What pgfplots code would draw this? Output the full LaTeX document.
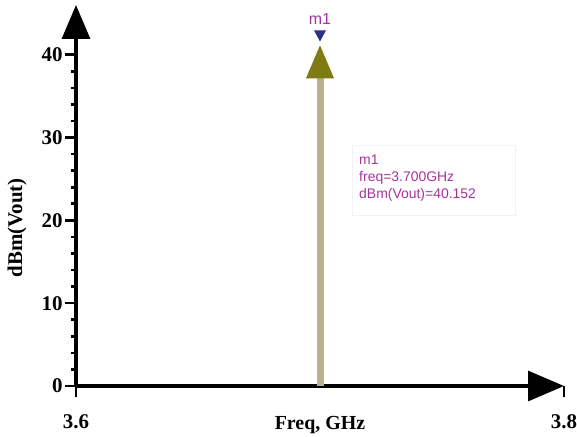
\documentclass[border=0pt]{standalone}
\usepackage{pgfplots}
\pgfplotsset{compat=1.18}
\usepackage{fontspec}
\setmainfont{Liberation Serif}
\newfontfamily\arial{Liberation Sans}
\usetikzlibrary{arrows.meta}
\definecolor{stemc}{HTML}{B8B08E}
\definecolor{headc}{HTML}{7E7B14}
\definecolor{markc}{HTML}{2E2E82}
\definecolor{txtc}{HTML}{A4349C}
\pgfdeclareplotmark{mtri}{%
  \pgfpathmoveto{\pgfpoint{0bp}{12bp}}%
  \pgfpathlineto{\pgfpoint{-6bp}{23bp}}%
  \pgfpathlineto{\pgfpoint{6bp}{23bp}}%
  \pgfpathclose
  \pgfusepathqfill}
\begin{document}
\begin{tikzpicture}
\begin{axis}[
  anchor=origin, at={(0,0)},
  scale only axis, width=488bp, height=381bp,
  xmin=3.6, xmax=3.8, ymin=0, ymax=46,
  axis lines=left,
  axis line style={line width=3.2bp},
  x axis line style={-{Triangle[length=36bp,width=30bp]}},
  y axis line style={-{Triangle[length=34bp,width=28bp]}},
  xtick={3.6,3.8}, xticklabels={3.6,3.8},
  ytick={0,10,20,30,40},
  minor y tick num=4,
  tick align=outside,
  major tick length=11bp, minor tick length=5bp,
  every tick/.style={black, line width=2.6bp},
  /pgf/number format/assume math mode=true,
  ticklabel style={font=\fontsize{21}{24}\selectfont\bfseries},
  xticklabel style={yshift=-14bp},
  yticklabel style={xshift=1bp},
  xlabel={Freq, GHz},
  xlabel style={font=\fontsize{20}{24}\selectfont\bfseries, at={(axis description cs:0.5,0)}, anchor=north, yshift=-27bp},
  ylabel={dBm(Vout)},
  ylabel style={font=\fontsize{21}{24}\selectfont\bfseries, at={(axis description cs:0,0.415)}, anchor=south, xshift=0bp, yshift=46bp},
  clip=false,
]
\addplot[stemc, line width=7bp, shorten >=-9bp, -{Triangle[length=34bp,width=26bp,color=headc,fill=headc]}] coordinates {(3.7,0) (3.7,40.152)};
\addplot[only marks, mark=mtri, mark options={fill=markc, draw=markc}] coordinates {(3.7,40.152)};
\node[txtc, font=\arial\fontsize{16}{18}\selectfont, anchor=south] at (axis cs:3.7,40.152) [yshift=25bp] {m1};
\draw[gray!10, line width=0.8bp] (axis cs:3.7131,29.1) rectangle (axis cs:3.7799,20.6);
\node[txtc, font=\arial\fontsize{14}{17}\selectfont, anchor=north west, align=left, inner sep=0pt] at (axis cs:3.7160,27.9) {m1\\freq=3.700GHz\\dBm(Vout)=40.152};
\end{axis}
\pgfresetboundingbox
\path[use as bounding box] (-76bp,-51bp) rectangle (501bp,386bp);
\end{tikzpicture}
\end{document}
